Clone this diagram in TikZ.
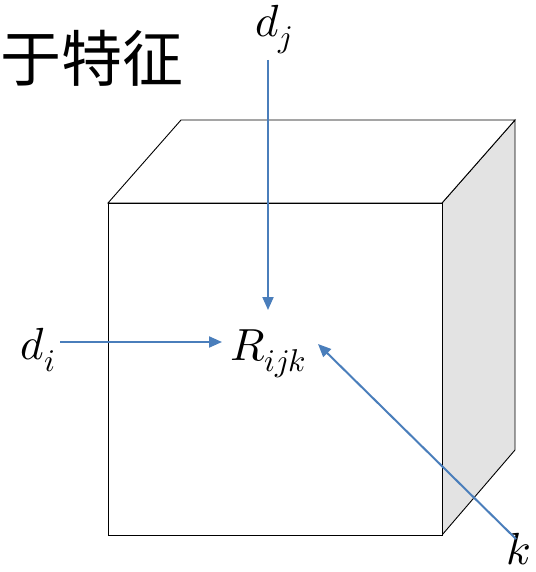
\documentclass[tikz,border=0pt]{standalone}
\usepackage{fontspec}
\usepackage{unicode-math}
\setmathfont{Latin Modern Math}
\newfontfamily\cjk{Noto Sans CJK SC}
\usetikzlibrary{arrows.meta}
\definecolor{arrblue}{HTML}{4A7EBB}
\definecolor{sidegray}{HTML}{E3E3E3}
\tikzset{
  edge/.style={draw=black, line width=0.9pt, line join=miter},
  conn/.style={draw=arrblue, line width=2pt, -{Triangle[length=13pt,width=11pt]}},
  lbl/.style={inner sep=0pt, font=\fontsize{45}{50}\selectfont}
}
\begin{document}
\begin{tikzpicture}[x=1pt,y=-1pt]
\useasboundingbox (0,0) rectangle (535,572);
% cube
\filldraw[edge, fill=sidegray] (442,203) -- (515,120) -- (515,450) -- (442,535) -- cycle;
\filldraw[edge, fill=white] (108,203) -- (181,120) -- (515,120) -- (442,203) -- cycle;
\filldraw[edge, fill=white] (108,203) rectangle (442,535);
% title text
\node[anchor=west, inner sep=0pt, font=\cjk\fontsize{61}{66}\selectfont] (title) at (0,58) {于特征};
% labels
\node[lbl] (R) at (268,354) {$R_{ijk}$};
\node[lbl] (dj) at (274,30) {$d_j$};
\node[lbl] (di) at (38,350) {$d_i$};
\node[lbl] (k) at (519,549) {$k$};
% connectors
\coordinate (djs) at (268,60);
\coordinate (dje) at (268,310);
\coordinate (dis) at (60,342);
\coordinate (die) at (222,342);
\coordinate (ks) at (516,539);
\coordinate (ke) at (318,344);
\draw[conn] (djs) -- (dje);
\draw[conn] (dis) -- (die);
\draw[conn] (ks) -- (ke);
\end{tikzpicture}
\end{document}
